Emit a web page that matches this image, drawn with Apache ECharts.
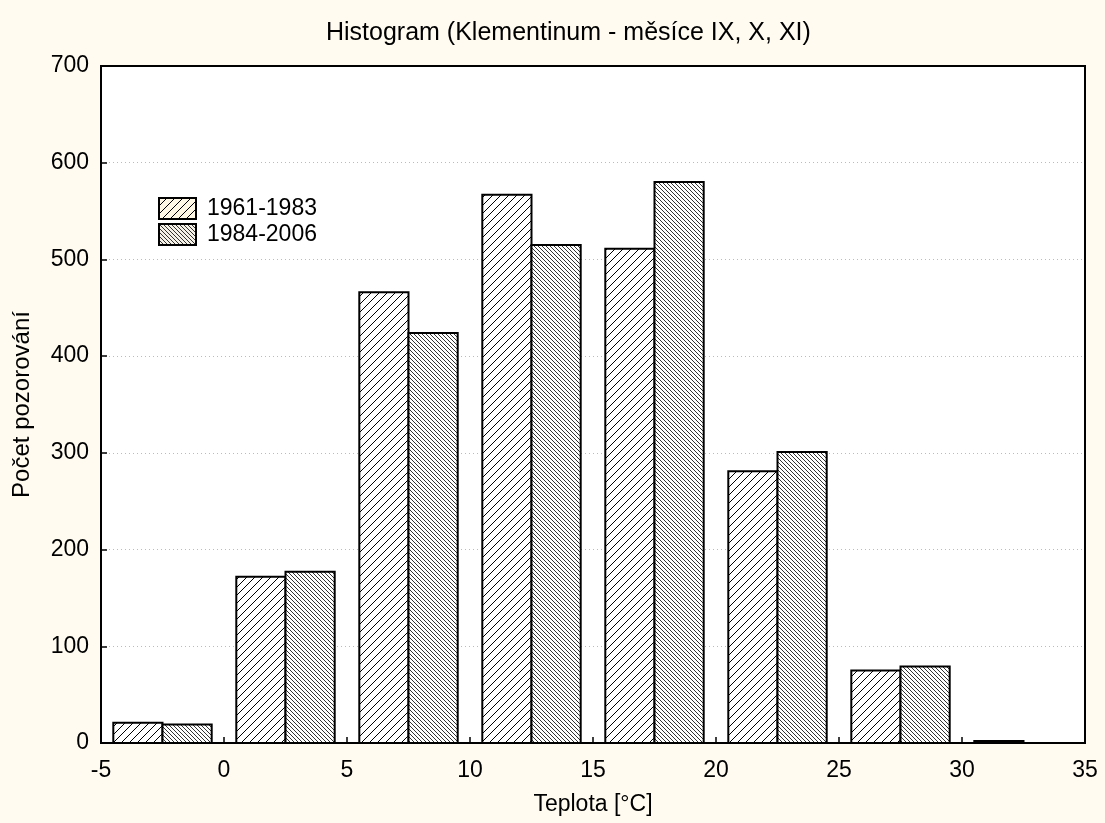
<!DOCTYPE html>
<html><head><meta charset="utf-8">
<script src="https://cdn.jsdelivr.net/npm/echarts@6/dist/echarts.min.js"></script>
<style>html,body{margin:0;padding:0;background:#FFFBF0;}#c{width:1105px;height:823px;}</style>
</head><body><div id="c"></div>
<script>
var binCenters = [-2.5, 2.5, 7.5, 12.5, 17.5, 22.5, 27.5, 32.5];
var series1Name = '1961-1983';
var series2Name = '1984-2006';
var series1 = [21, 172, 466, 567, 511, 281, 75, 2];
var series2 = [19, 177, 424, 515, 580, 301, 79, 0];
var xTicks = [-5, 0, 5, 10, 15, 20, 25, 30, 35];
var yTicks = [0, 100, 200, 300, 400, 500, 600, 700];

function makePattern(dir, size, color, bg) {
  var c = document.createElement('canvas');
  c.width = size; c.height = size;
  var g = c.getContext('2d');
  g.fillStyle = bg; g.fillRect(0, 0, size, size);
  g.strokeStyle = color; g.lineWidth = 1;
  g.beginPath();
  for (var k = -1; k <= 1; k++) {
    if (dir === '/') { g.moveTo(k * size, size); g.lineTo(k * size + size, 0); }
    else { g.moveTo(k * size, 0); g.lineTo(k * size + size, size); }
  }
  g.stroke();
  return c;
}
var pat1 = { image: makePattern('/', 8, '#000', '#ffffff'), repeat: 'repeat' };
var pat2 = { image: makePattern('\\', 4, '#333', '#ffffff'), repeat: 'repeat' };
var patL1 = { image: makePattern('/', 8, '#000', '#fff8e4'), repeat: 'repeat' };
var patL2 = { image: makePattern('\\', 4, '#333', '#f4f0e6'), repeat: 'repeat' };

var barW = 2.0; // bar width in data units
function buildData(vals, side) {
  return binCenters.map(function (c, i) {
    var x0 = side === 0 ? c - barW : c;
    return [x0, x0 + barW, vals[i]];
  });
}
function renderBar(params, api) {
  if (api.value(2) <= 0) return null;
  var p0 = api.coord([api.value(0), 0]);
  var p1 = api.coord([api.value(1), api.value(2)]);
  return {
    type: 'rect',
    shape: { x: p0[0], y: p1[1], width: p1[0] - p0[0], height: p0[1] - p1[1] },
    style: api.style({ stroke: '#000', lineWidth: 2 })
  };
}

var chart = echarts.init(document.getElementById('c'), null, { renderer: 'canvas' });
var font = 'Liberation Sans, Arial, sans-serif';
var fs = 23;
chart.setOption({
  backgroundColor: '#FFFBF0',
  animation: false,
  title: {
    text: 'Histogram (Klementinum - měsíce IX, X, XI)',
    left: 321, top: 16,
    textStyle: { fontFamily: font, fontSize: 25, fontWeight: 'normal', color: '#000' }
  },
  legend: {
    left: 153, top: 192, orient: 'vertical', itemWidth: 37, itemHeight: 21, itemGap: 3,
    icon: 'rect',
    textStyle: { fontFamily: font, fontSize: fs, color: '#000', padding: [0, 0, 0, 6] },
    data: [
      { name: series1Name, itemStyle: { color: patL1, borderColor: '#000', borderWidth: 2 } },
      { name: series2Name, itemStyle: { color: patL2, borderColor: '#000', borderWidth: 2 } }
    ]
  },
  grid: { left: 101, right: 20, top: 66, bottom: 80, show: true, backgroundColor: '#fff', borderColor: '#000', borderWidth: 2 },
  xAxis: {
    type: 'value', min: -5, max: 35, interval: 5,
    name: 'Teplota [°C]', nameLocation: 'middle', nameGap: 50,
    nameTextStyle: { fontFamily: font, fontSize: fs, color: '#000' },
    axisLine: { show: true, onZero: false, lineStyle: { color: '#000', width: 2 } },
    axisTick: { show: true, inside: true, length: 6, lineStyle: { color: '#000', width: 1.5 } },
    axisLabel: { fontFamily: font, fontSize: fs, color: '#000', margin: 16 },
    splitLine: { show: false }
  },
  yAxis: {
    type: 'value', min: 0, max: 700, interval: 100,
    name: 'Počet pozorování', nameLocation: 'middle', nameGap: 67,
    nameTextStyle: { fontFamily: font, fontSize: 24, color: '#000' },
    axisLine: { show: true, onZero: false, lineStyle: { color: '#000', width: 2 } },
    axisTick: { show: true, inside: true, length: 6, lineStyle: { color: '#000', width: 1.5 } },
    axisLabel: { fontFamily: font, fontSize: fs, color: '#000', margin: 12 },
    splitLine: { show: true, showMinLine: false, showMaxLine: false, lineStyle: { color: '#bbb', type: [1, 3], width: 1 } }
  },
  series: [
    { name: series1Name, type: 'custom', renderItem: renderBar, z: 3,
      itemStyle: { color: pat1, borderColor: '#000', borderWidth: 2 },
      encode: { x: [0, 1], y: 2 }, data: buildData(series1, 0) },
    { name: series2Name, type: 'custom', renderItem: renderBar, z: 3,
      itemStyle: { color: pat2, borderColor: '#000', borderWidth: 2 },
      encode: { x: [0, 1], y: 2 }, data: buildData(series2, 1) }
  ]
});
</script></body></html>
